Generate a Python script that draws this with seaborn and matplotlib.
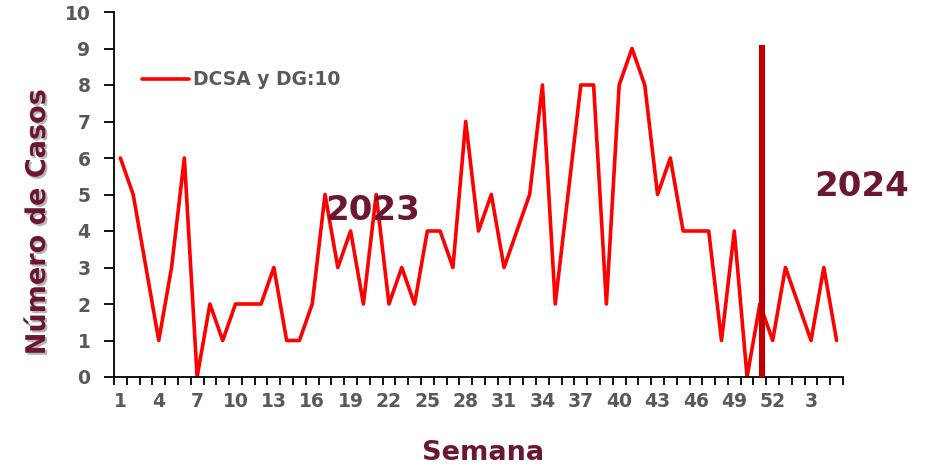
import matplotlib
matplotlib.use("Agg")
import matplotlib.pyplot as plt
import matplotlib.patheffects as pe
import seaborn as sns
import pandas as pd
import numpy as np

# Weekly case counts: 2023 weeks 1-52 followed by 2024 weeks 1-5
weeks_2023 = list(range(1, 53))
weeks_2024 = [1, 2, 3, 4, 5]
cases = [6, 5, 3, 1, 3, 6, 0, 2, 1, 2,
         2, 2, 3, 1, 1, 2, 5, 3, 4, 2,
         5, 2, 3, 2, 4, 4, 3, 7, 4, 5,
         3, 4, 5, 8, 2, 5, 8, 8, 2, 8,
         9, 8, 5, 6, 4, 4, 4, 1, 4, 0,
         2, 1, 3, 2, 1, 3, 1]
series_name = "DCSA y DG:10"
y_ticks = list(range(0, 11))

# Year divider and year captions
divider_pos = 50.2
divider_top = 9.1
year_labels = ["2023", "2024"]
year_label_pos = [(19.75, 4.55), (57.98, 5.23)]

week_labels = [str(w) for w in weeks_2023 + weeks_2024]
df = pd.DataFrame({"pos": np.arange(len(cases)), "casos": cases, "semana": week_labels})

sns.set_theme(style="white")
plt.rcParams["font.family"] = ["DejaVu Sans"]

MAROON = "#6B1732"
GRAY = "#595959"

fig = plt.figure(figsize=(9.36, 4.68), dpi=100)
ax = fig.add_axes([114 / 936, 1 - 377 / 468, 729 / 936, 365 / 468])

sns.lineplot(data=df, x="pos", y="casos", ax=ax, color="#FF0000",
             linewidth=2.6, label=series_name)

ax.plot([divider_pos, divider_pos], [0, divider_top], color="#C00000",
        linewidth=4.4, solid_capstyle="butt", zorder=3)

n = len(cases)
ax.set_xlim(-0.5, n - 0.5)
ax.set_ylim(0, 10)

# Tick marks at category boundaries, labels centred on every third week
ax.set_xticks(np.arange(-0.5, n, 1.0))
ax.set_xticklabels([])
label_idx = list(range(0, n, 3))
ax.set_xticks(label_idx, minor=True)
ax.set_xticklabels([week_labels[i] for i in label_idx], minor=True)
ax.tick_params(axis="x", which="major", direction="out", length=6, width=1.3,
               color="black", bottom=True)
ax.tick_params(axis="x", which="minor", length=0, pad=11, labelsize=13.5,
               labelcolor=GRAY, bottom=True)
for t in ax.get_xticklabels(minor=True):
    t.set_fontweight("bold")

ax.set_yticks(y_ticks)
ax.set_yticklabels([str(v) for v in y_ticks])
ax.tick_params(axis="y", direction="out", length=7, width=1.3, color="black",
               pad=10, labelsize=13.5, labelcolor=GRAY, left=True)
for t in ax.get_yticklabels():
    t.set_fontweight("bold")

for side in ["top", "right"]:
    ax.spines[side].set_visible(False)
for side in ["left", "bottom"]:
    ax.spines[side].set_color("black")
    ax.spines[side].set_linewidth(1.3)

ax.set_xlabel("")
ax.set_ylabel("")

leg = ax.legend(loc="center left", bbox_to_anchor=(0.038, 0.814), frameon=False,
                borderpad=0, borderaxespad=0, handlelength=2.5, handletextpad=0.25,
                prop={"weight": "bold", "size": 13.5})
for txt in leg.get_texts():
    txt.set_color(GRAY)

for label, (lx, ly) in zip(year_labels, year_label_pos):
    ax.text(lx, ly, label, color=MAROON, fontsize=24.5, fontweight="bold",
            ha="center", va="center", clip_on=False, zorder=4)

fig.text(483 / 936, 1 - 453 / 468, "Semana", color=MAROON, fontsize=19.5,
         fontweight="bold", ha="center", va="center")
fig.text(38 / 936, 1 - 222 / 468, "Número de Casos", color=MAROON, fontsize=19.5,
         fontweight="bold", ha="center", va="center", rotation=90,
         path_effects=[pe.SimplePatchShadow(offset=(1.5, -1.5), shadow_rgbFace="#888888", alpha=0.6),
                       pe.Normal()])

fig.savefig("out.png", dpi=100)
